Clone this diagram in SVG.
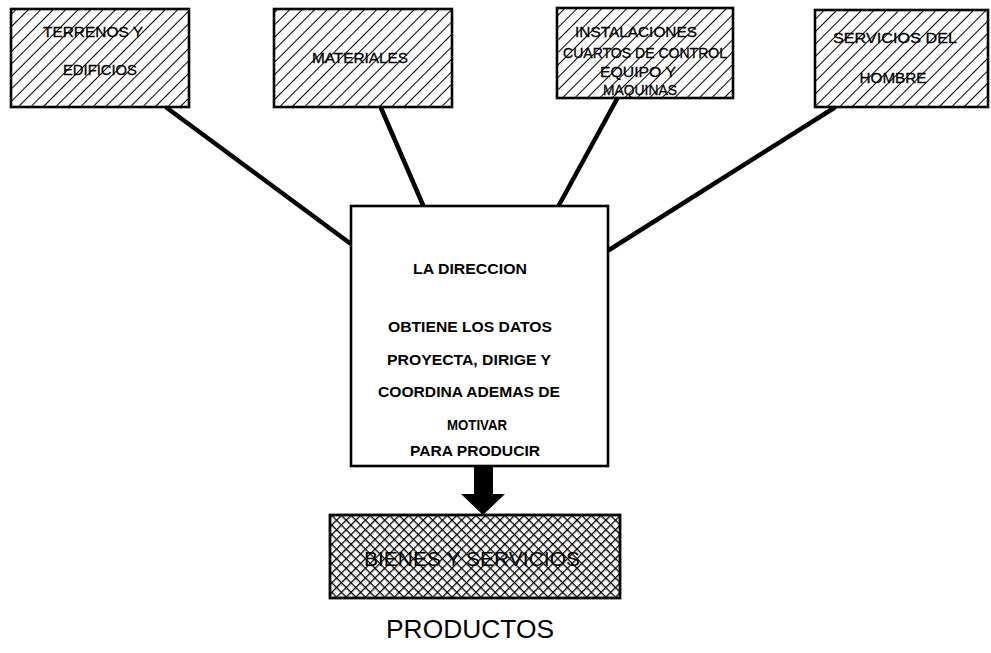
<svg xmlns="http://www.w3.org/2000/svg" width="991" height="653" viewBox="0 0 991 653">
<defs>
<pattern id="hatch" patternUnits="userSpaceOnUse" width="8.8" height="8.8" patternTransform="rotate(45)">
<line x1="0" y1="-1" x2="0" y2="10" stroke="#000" stroke-width="2"/>
</pattern>
<pattern id="cross" patternUnits="userSpaceOnUse" width="6.8" height="6.8" patternTransform="rotate(45)">
<line x1="0" y1="-1" x2="0" y2="8" stroke="#000" stroke-width="2.6"/>
<line x1="-1" y1="0" x2="8" y2="0" stroke="#000" stroke-width="2.6"/>
</pattern>
</defs>
<style>
.box{stroke:#000;stroke-width:2.6;}
.hb{fill:url(#hatch);}
.lbl{font-family:"Liberation Sans",Arial,sans-serif;font-size:15px;fill:#000;text-anchor:middle;stroke:#000;stroke-width:0.3;}
.mid{font-family:"Liberation Sans",Arial,sans-serif;font-size:14.5px;font-weight:bold;fill:#000;text-anchor:middle;}
.conn{stroke:#000;stroke-width:4.5;stroke-linecap:round;fill:none;}
</style>
<rect width="991" height="653" fill="#fff"/>
<g id="connectors">
<line class="conn" x1="167" y1="108" x2="351" y2="244"/>
<line class="conn" x1="381" y1="108" x2="423" y2="205"/>
<line class="conn" x1="617" y1="99" x2="559" y2="205"/>
<line class="conn" x1="834" y1="108" x2="609" y2="250"/>
<polygon points="474,466 493,466 493,494 505,494 483,515 461,494 474,494" fill="#000"/>
</g>
<g id="terrenos">
<rect class="box hb" x="11" y="9" width="178" height="98"/>
<text class="lbl" x="93" y="37" textLength="100" lengthAdjust="spacingAndGlyphs">TERRENOS Y</text>
<text class="lbl" x="100" y="75" textLength="74" lengthAdjust="spacingAndGlyphs">EDIFICIOS</text>
</g>
<g id="materiales">
<rect class="box hb" x="274" y="9" width="178" height="98"/>
<text class="lbl" x="360" y="63" textLength="96" lengthAdjust="spacingAndGlyphs">MATERIALES</text>
</g>
<g id="instalaciones">
<rect class="box hb" x="557" y="8" width="176" height="90"/>
<text class="lbl" x="636" y="37" textLength="122" lengthAdjust="spacingAndGlyphs">INSTALACIONES</text>
<text class="lbl" x="645" y="58" textLength="164" lengthAdjust="spacingAndGlyphs">CUARTOS DE CONTROL</text>
<text class="lbl" x="638" y="77" textLength="76" lengthAdjust="spacingAndGlyphs">EQUIPO Y</text>
<text class="lbl" x="640" y="95" textLength="74" lengthAdjust="spacingAndGlyphs">MAQUINAS</text>
</g>
<g id="servicios">
<rect class="box hb" x="815" y="10" width="173" height="97"/>
<text class="lbl" x="895" y="43" textLength="124" lengthAdjust="spacingAndGlyphs">SERVICIOS DEL</text>
<text class="lbl" x="893" y="83" textLength="67" lengthAdjust="spacingAndGlyphs">HOMBRE</text>
</g>
<g id="direccion">
<rect class="box" x="351" y="206" width="257" height="260" fill="#fff"/>
<text class="mid" x="470" y="274" textLength="114" lengthAdjust="spacingAndGlyphs">LA DIRECCION</text>
<text class="mid" x="470" y="332" textLength="164" lengthAdjust="spacingAndGlyphs">OBTIENE LOS DATOS</text>
<text class="mid" x="469" y="365" textLength="164" lengthAdjust="spacingAndGlyphs">PROYECTA, DIRIGE Y</text>
<text class="mid" x="469" y="397" textLength="182" lengthAdjust="spacingAndGlyphs">COORDINA ADEMAS DE</text>
<text class="mid" x="477" y="430" textLength="60" lengthAdjust="spacingAndGlyphs">MOTIVAR</text>
<text class="mid" x="475" y="456" textLength="130" lengthAdjust="spacingAndGlyphs">PARA PRODUCIR</text>
</g>
<g id="bienes">
<rect x="330" y="515" width="290" height="83" fill="url(#cross)" stroke="#000" stroke-width="2.8"/>
<text x="472" y="566" text-anchor="middle" font-family="Liberation Sans, Arial, sans-serif" font-size="20" textLength="216" lengthAdjust="spacingAndGlyphs">BIENES Y SERVICIOS</text>
</g>
<g id="productos">
<text x="470" y="638" text-anchor="middle" font-family="Liberation Sans, Arial, sans-serif" font-size="26" textLength="168" lengthAdjust="spacingAndGlyphs">PRODUCTOS</text>
</g>
</svg>
